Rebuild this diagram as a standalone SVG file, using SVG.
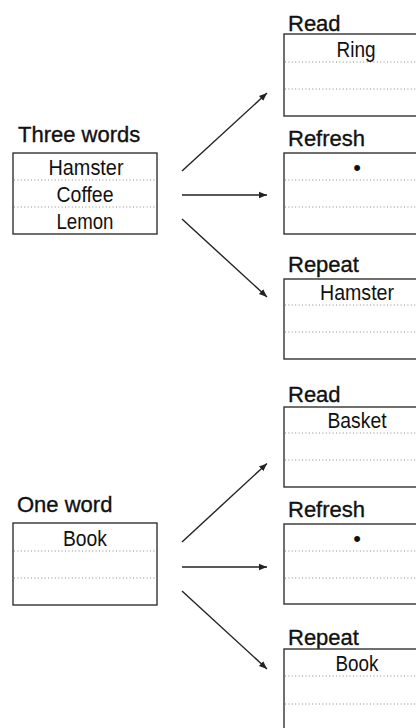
<svg xmlns="http://www.w3.org/2000/svg" width="416" height="728" viewBox="0 0 416 728">
<defs>
<marker id="ah" viewBox="0 0 10 10" refX="10" refY="5" markerWidth="8" markerHeight="8" markerUnits="userSpaceOnUse" orient="auto">
<path d="M0,1 L10,5 L0,9 Z" fill="#222"/>
</marker>
<style>
.box{fill:#fff;stroke:#333;stroke-width:1.4}
.dot{stroke:#888;stroke-width:1;stroke-dasharray:1 2.4}
.title{font-family:"Liberation Sans",Arial,sans-serif;font-size:22px;fill:#111;stroke:#111;stroke-width:0.35}
.word{font-family:"Liberation Sans",Arial,sans-serif;font-size:22px;fill:#111;text-anchor:middle}
.arr{stroke:#222;stroke-width:1.4;fill:none;marker-end:url(#ah)}
</style>
</defs>
<rect width="416" height="728" fill="#fff"/>

<g id="three-words">
<text class="title" x="18" y="142">Three words</text>
<rect class="box" x="13" y="153" width="144" height="81"/>
<line class="dot" x1="14" y1="180" x2="156" y2="180"/>
<line class="dot" x1="14" y1="207" x2="156" y2="207"/>
<text class="word" x="86" y="175" textLength="75" lengthAdjust="spacingAndGlyphs">Hamster</text>
<text class="word" x="85" y="202" textLength="57" lengthAdjust="spacingAndGlyphs">Coffee</text>
<text class="word" x="85" y="229" textLength="57" lengthAdjust="spacingAndGlyphs">Lemon</text>
</g>

<g id="read-1">
<text class="title" x="288" y="31">Read</text>
<rect class="box" x="284" y="34" width="146" height="82"/>
<line class="dot" x1="285" y1="62" x2="430" y2="62"/>
<line class="dot" x1="285" y1="89" x2="430" y2="89"/>
<text class="word" x="356" y="57" textLength="39" lengthAdjust="spacingAndGlyphs">Ring</text>
</g>

<g id="refresh-1">
<text class="title" x="288" y="146">Refresh</text>
<rect class="box" x="284" y="153" width="146" height="81"/>
<line class="dot" x1="285" y1="180" x2="430" y2="180"/>
<line class="dot" x1="285" y1="207" x2="430" y2="207"/>
<text class="word" x="357" y="175">•</text>
</g>

<g id="repeat-1">
<text class="title" x="288" y="272">Repeat</text>
<rect class="box" x="284" y="279" width="146" height="80"/>
<line class="dot" x1="285" y1="305" x2="430" y2="305"/>
<line class="dot" x1="285" y1="332" x2="430" y2="332"/>
<text class="word" x="357" y="300" textLength="74" lengthAdjust="spacingAndGlyphs">Hamster</text>
</g>

<g id="one-word">
<text class="title" x="17" y="512">One word</text>
<rect class="box" x="13" y="523" width="144" height="82"/>
<line class="dot" x1="14" y1="551" x2="156" y2="551"/>
<line class="dot" x1="14" y1="578" x2="156" y2="578"/>
<text class="word" x="85" y="546" textLength="44" lengthAdjust="spacingAndGlyphs">Book</text>
</g>

<g id="read-2">
<text class="title" x="288" y="402">Read</text>
<rect class="box" x="284" y="407" width="146" height="80"/>
<line class="dot" x1="285" y1="433" x2="430" y2="433"/>
<line class="dot" x1="285" y1="460" x2="430" y2="460"/>
<text class="word" x="357" y="428" textLength="59" lengthAdjust="spacingAndGlyphs">Basket</text>
</g>

<g id="refresh-2">
<text class="title" x="288" y="517">Refresh</text>
<rect class="box" x="284" y="524" width="146" height="80"/>
<line class="dot" x1="285" y1="551" x2="430" y2="551"/>
<line class="dot" x1="285" y1="578" x2="430" y2="578"/>
<text class="word" x="357" y="546">•</text>
</g>

<g id="repeat-2">
<text class="title" x="288" y="645">Repeat</text>
<rect class="box" x="284" y="649" width="146" height="82"/>
<line class="dot" x1="285" y1="676" x2="430" y2="676"/>
<line class="dot" x1="285" y1="704" x2="430" y2="704"/>
<text class="word" x="357" y="671" textLength="43" lengthAdjust="spacingAndGlyphs">Book</text>
</g>

<g id="connectors">
<line class="arr" x1="182" y1="171" x2="267" y2="93"/>
<line class="arr" x1="182" y1="195" x2="267" y2="195"/>
<line class="arr" x1="182" y1="219" x2="267" y2="297"/>
<line class="arr" x1="182" y1="542" x2="267" y2="463.5"/>
<line class="arr" x1="182" y1="567" x2="267" y2="567"/>
<line class="arr" x1="182" y1="591" x2="267" y2="669"/>
</g>
</svg>
